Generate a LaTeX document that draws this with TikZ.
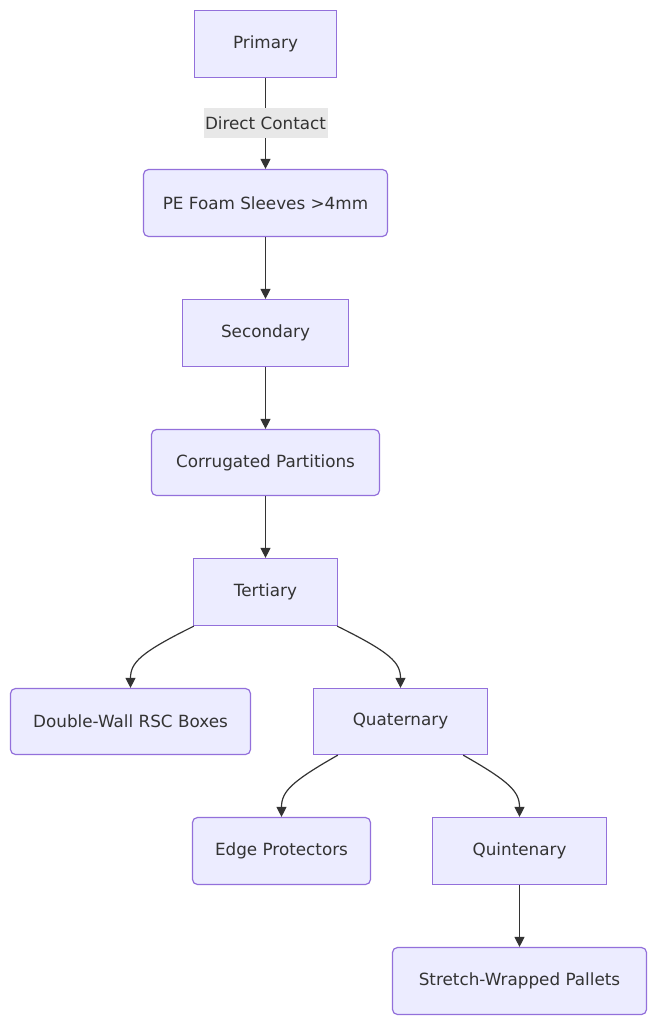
\documentclass[tikz,border=0pt]{standalone}
\usepackage{fontspec}
\setmainfont{DejaVu Sans}
\usetikzlibrary{arrows.meta,calc}
\definecolor{nodefill}{HTML}{ECECFF}
\definecolor{nodeline}{HTML}{9370DB}
\definecolor{ink}{HTML}{333333}
\definecolor{lblbg}{HTML}{E8E8E8}
\begin{document}
\begin{tikzpicture}[x=1pt,y=-1pt,
  base/.style={draw=nodeline,fill=nodefill,line width=1.2pt,text=ink,
    font=\fontsize{16.8}{20}\selectfont,inner sep=0pt,anchor=center},
  sqbox/.style={base},
  rdbox/.style={base,rounded corners=5pt},
  conn/.style={draw=ink,line width=1.2pt,-{Triangle[length=10pt,width=10pt]}},
  lbl/.style={fill=lblbg,text=ink,font=\fontsize{16.8}{20}\selectfont,inner xsep=1.5pt,inner ysep=0pt,minimum height=30pt}]
\useasboundingbox (0,0) rectangle (656,1024);
\begin{scope}[shift={(0.5,0.5)}]
\node[sqbox,minimum width=142pt,minimum height=67pt] (prim) at (265,43.5) {Primary};
\node[rdbox,minimum width=244pt,minimum height=67pt] (pe) at (265,202.5) {PE Foam Sleeves >4mm};
\node[sqbox,minimum width=166pt,minimum height=67pt] (sec) at (265,332.5) {Secondary};
\node[rdbox,minimum width=228pt,minimum height=66pt] (corr) at (265,462) {Corrugated Partitions};
\node[sqbox,minimum width=144pt,minimum height=67pt] (tert) at (265,591.5) {Tertiary};
\node[rdbox,minimum width=240pt,minimum height=66pt] (dbl) at (130,721) {Double-Wall RSC Boxes};
\node[sqbox,minimum width=174pt,minimum height=66pt] (quat) at (400,721) {Quaternary};
\node[rdbox,minimum width=178pt,minimum height=67pt] (edge) at (281,850.5) {Edge Protectors};
\node[sqbox,minimum width=174pt,minimum height=67pt] (quin) at (519,850.5) {Quintenary};
\node[rdbox,minimum width=254pt,minimum height=67pt] (pal) at (519,980.5) {Stretch-Wrapped Pallets};

\draw[conn] (prim) -- node[lbl] {Direct Contact} (pe);
\draw[conn] (pe) -- (sec);
\draw[conn] (sec) -- (corr);
\draw[conn] (corr) -- (tert);
\draw[conn] ([xshift=1pt]tert.south west) .. controls (140,652) and (130,662) .. (dbl.north);
\draw[conn] ([xshift=-1pt]tert.south east) .. controls (390,652) and (400,662) .. (quat.north);
\draw[conn] ([xshift=25pt]quat.south west) .. controls (291,781) and (281,791) .. (edge.north);
\draw[conn] ([xshift=-25pt]quat.south east) .. controls (509,781) and (519,791) .. (quin.north);
\draw[conn] (quin) -- (pal);
\end{scope}
\end{tikzpicture}
\end{document}
